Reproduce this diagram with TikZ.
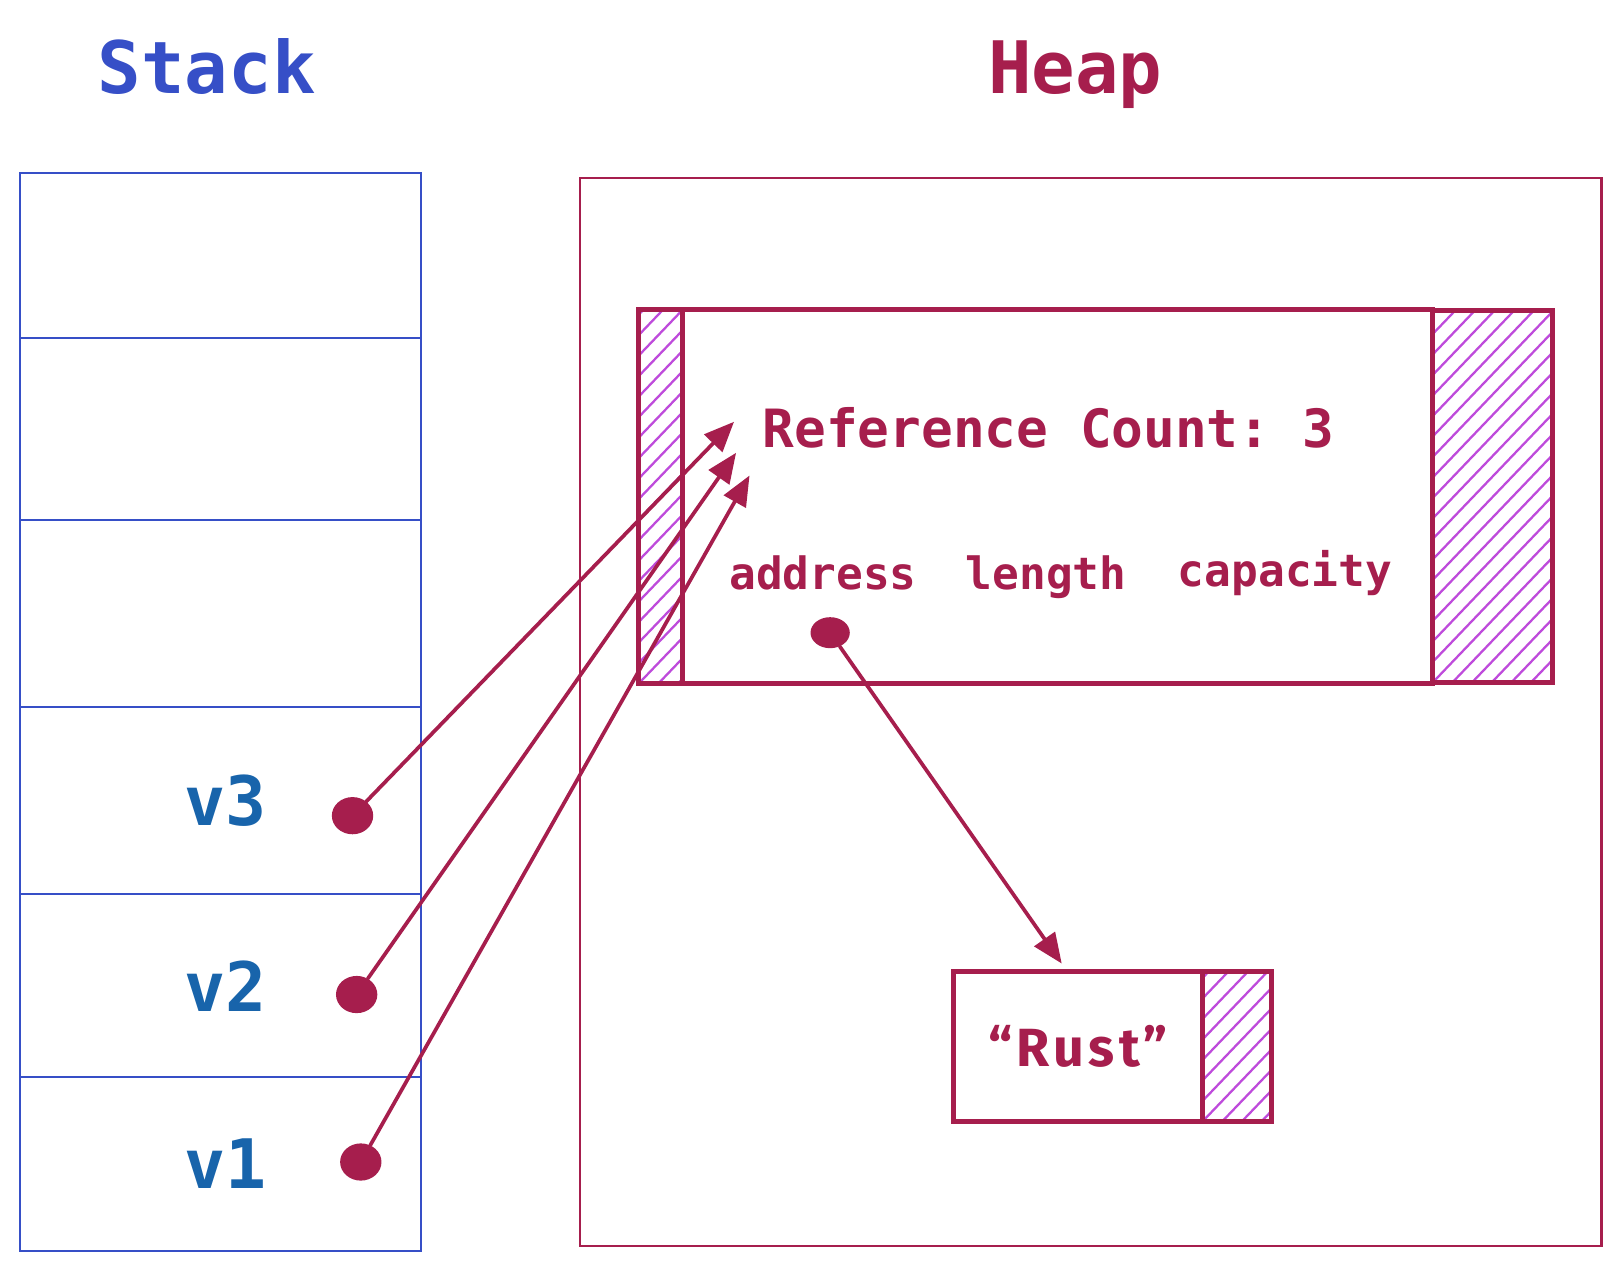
\documentclass[tikz,border=0pt]{standalone}
\usepackage{fontspec}
\setmonofont{DejaVu Sans Mono}
\newfontfamily\quotefont[LetterSpace=8]{Fira Sans}
\usepackage{tikz}
\usetikzlibrary{shapes.geometric, arrows.meta, positioning, calc}

\definecolor{stackBlue}{HTML}{364FC7}
\definecolor{slotBlue}{HTML}{1864AB}
\definecolor{heapRed}{HTML}{A61E4D}
\definecolor{hatchViolet}{HTML}{BE4BDB}

\begin{document}
\begin{tikzpicture}[
        x=1pt, y=-1pt,
        title/.style={
            anchor=base, font=\fontsize{70}{84}\selectfont\ttfamily\bfseries
        },
        slotBox/.style={
            rectangle, draw=stackBlue, line width=2pt, minimum width=388pt,
            inner sep=0pt, outer sep=0pt, text=slotBlue,
            font=\fontsize{66}{78}\selectfont\ttfamily\bfseries
        },
        heapFrame/.style={
            rectangle, draw=heapRed, line width=2.2pt, inner sep=0pt, outer sep=0pt
        },
        structBox/.style={
            rectangle, draw=heapRed, line width=5pt, fill=white,
            inner sep=0pt, outer sep=0pt
        },
        hatchBox/.style={
            rectangle, draw=heapRed, line width=5pt, inner sep=0pt, outer sep=0pt,
            path picture={
                \foreach \k in {-24,...,8}
                    \draw[hatchViolet, line width=2.2pt]
                        ($(path picture bounding box.south west)+(\k*19pt,0pt)$) -- ++(460pt,480pt);
            }
        },
        fieldText/.style={
            anchor=base, text=heapRed, font=\fontsize{43}{52}\selectfont\ttfamily\bfseries
        },
        pointer/.style={
            ellipse, fill=heapRed, inner sep=0pt, minimum width=40pt, minimum height=36pt
        },
        ptrArrow/.style={
            draw=heapRed, line width=3.6pt, line cap=round,
            -{Triangle[length=29pt, width=24pt]}
        }
    ]
        \useasboundingbox (0,0) rectangle (1568,1229);

        % Titles
        \node (stackTitle) [title, text=stackBlue] at (200,90) {Stack};
        \node (heapTitle) [title, text=heapRed] at (1040,90) {Heap};

        % Stack slots
        \node (slot6) [slotBox, minimum height=160pt, anchor=north west] at (19,167) {};
        \node (slot5) [slotBox, minimum height=176pt, below=0pt of slot6] {};
        \node (slot4) [slotBox, minimum height=181pt, below=0pt of slot5] {};
        \node (slot3) [slotBox, minimum height=181pt, below=0pt of slot4] {\hspace*{10pt}v3};
        \node (slot2) [slotBox, minimum height=177pt, below=0pt of slot3] {\hspace*{10pt}v2};
        \node (slot1) [slotBox, minimum height=168pt, below=0pt of slot2] {\hspace*{10pt}v1};

        \node (dot3) [pointer] at (341,789) {};
        \node (dot2) [pointer] at (345,962) {};
        \node (dot1) [pointer] at (349,1124) {};

        % Heap
        \node (heap) [heapFrame, minimum width=988pt, minimum height=1033pt, anchor=north west] at (561,172) {};

        \node (rcbox) [structBox, minimum width=726pt, minimum height=362pt, anchor=north west] at (660,299) {};
        \node (lhatch) [hatchBox, minimum width=42pt, minimum height=362pt, left=0pt of rcbox] {};
        \node (rhatch) [hatchBox, minimum width=116pt, minimum height=360pt, right=0pt of rcbox] {};

        \node (refcount) [anchor=base, text=heapRed, font=\fontsize{51}{60}\selectfont\ttfamily\bfseries] at (1014,433) {Reference Count: 3};
        \node (address) [fieldText] at (796,570) {address};
        \node (length) [fieldText] at (1012,570) {length};
        \node (capacity) [fieldText] at (1243,567) {capacity};
        \node (addrdot) [pointer, minimum width=38pt, minimum height=30pt] at (803,612) {};

        \node (rust) [structBox, minimum width=241pt, minimum height=145pt, anchor=north west,
            text=heapRed, font=\fontsize{52}{62}\selectfont\quotefont\bfseries] at (922,940) {“Rust”};
        \node (rusthatch) [hatchBox, minimum width=67pt, minimum height=145pt, right=0pt of rust] {};

        % Arrow ends
        \coordinate (tip3) at (710,408);
        \coordinate (tip2) at (712,438);
        \coordinate (tip1) at (725,460);
        \coordinate (tipRust) at (1027,932);

        % Arrows
        \draw [ptrArrow] (dot3) -- (tip3);
        \draw [ptrArrow] (dot2) -- (tip2);
        \draw [ptrArrow] (dot1) -- (tip1);
        \draw [ptrArrow] (addrdot) -- (tipRust);
    \end{tikzpicture}
\end{document}
